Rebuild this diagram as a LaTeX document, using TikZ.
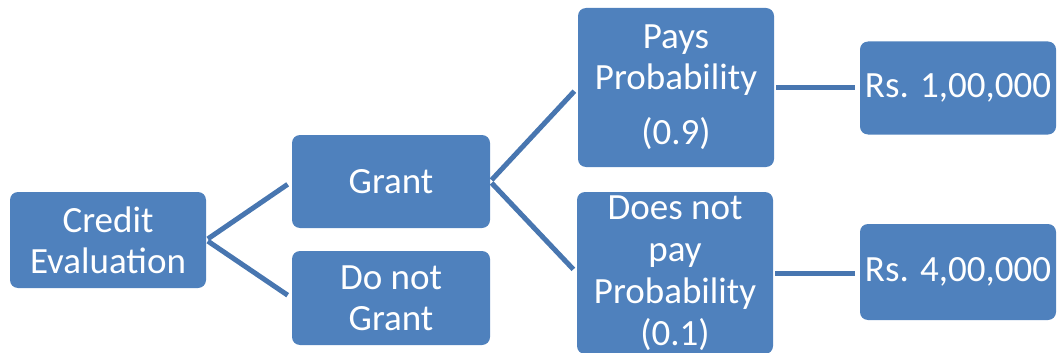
\documentclass[tikz,border=0pt]{standalone}
\usepackage{fontspec}
\setmainfont{Carlito}
\usepackage{xcolor}
\definecolor{boxblue}{RGB}{79,129,189}
\definecolor{wireblue}{RGB}{72,118,176}
\tikzset{
	box/.style={fill=boxblue, text=white, rounded corners=8pt, align=center, inner sep=0pt, minimum width=196pt, font=\fontsize{37}{41}\selectfont},
	wire/.style={draw=wireblue, line width=5pt, shorten <=2pt, shorten >=5pt}
}

\begin{document}
\begin{tikzpicture}[x=1pt, y=-1pt]
				% Boxes and connectors:
				\useasboundingbox (0,0) rectangle (1058,353);
				\node[box, minimum height=96pt](credit) at (108,240){Credit\\Evaluation};
				\node[box, minimum width=198pt, minimum height=93pt](grant) at (391,181.5){Grant};
				\node[box, minimum width=198pt, minimum height=94pt](nogrant) at (391,298){Do not\\Grant};
				\node[box, minimum height=159pt](pays) at (676,87.5){Pays\\Probability\\[14pt](0.9)};
				\node[box, minimum height=162pt, font=\fontsize{37}{42}\selectfont](nopay) at (675,273){Does not\\pay\\Probability\\(0.1)};
				\node[box, minimum height=93pt](rsone) at (958,88){Rs. 1,00,000};
				\node[box, minimum height=96pt](rsfour) at (958,272){Rs. 4,00,000};
				\draw[wire] (credit.east) -- (grant.west);
				\draw[wire] (credit.east) -- (nogrant.west);
				\draw[wire] (grant.east) -- (pays.west);
				\draw[wire] (grant.east) -- (nopay.west);
				\draw[wire] (pays.east) -- (pays.east -| rsone.west);
				\draw[wire] (nopay.east) -- (nopay.east -| rsfour.west);
			\end{tikzpicture}
\end{document}
